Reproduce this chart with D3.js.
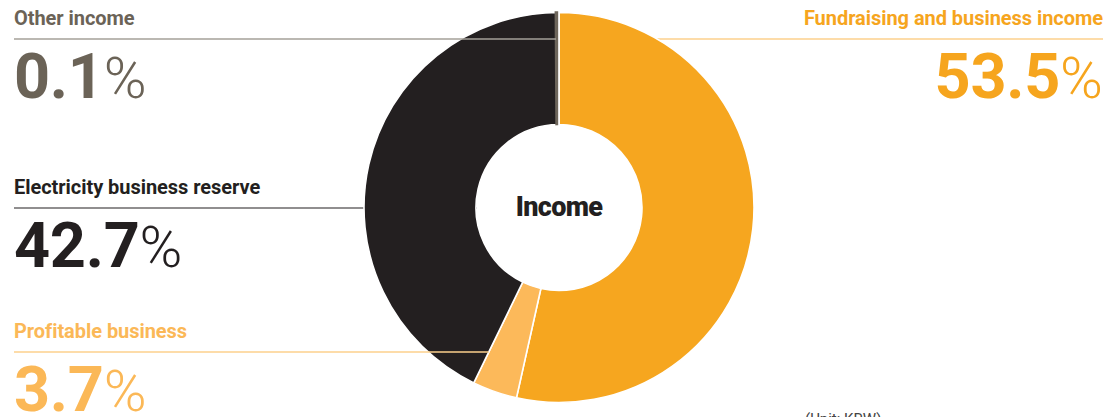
<!DOCTYPE html>
<html>
<head>
<meta charset="utf-8">
<script src="https://cdn.jsdelivr.net/npm/d3@7"></script>
<style>
  html, body { margin: 0; padding: 0; background: #fff; }
  svg { display: block; }
</style>
</head>
<body>
<svg id="chart" width="1111" height="417"></svg>
<script>
// Income composition (%)
const categories = [
  "Fundraising and business income",
  "Profitable business",
  "Electricity business reserve",
  "Other income"
];
const shares = [53.5, 3.7, 42.7, 0.1];
const centerTitle = "Income";
const unitNote = "(Unit: KRW)";

// Presentation
const fills = ["#f6a61f", "#fcb95a", "#231f20", "#6e665b"];
const textFills = ["#f6a51e", "#fbb857", "#231f20", "#6b6357"];
const leaderFills = ["#fdd08c", "#fdd08c", "#231f20", "#a5a098"];
const side = ["right", "left", "left", "left"];
const leaderY = [39, 352, 208, 39];

const W = 1111, H = 417;
const cx = 559, cy = 207.5, outerR = 195, innerR = 83;
const leftX = 14, rightX = 1103;

const svg = d3.select("#chart");

const pie = d3.pie().sort(null).value(d => d.v).startAngle(0).endAngle(2 * Math.PI);
const arcs = pie(categories.map((c, i) => ({ c, v: shares[i], i })));
const arc = d3.arc().innerRadius(innerR).outerRadius(outerR);

const leaders = svg.append("g");
const pieG = svg.append("g").attr("transform", `translate(${cx},${cy})`);
const over = svg.append("g");

// x where a horizontal leader at height y meets the slice's closing edge
function edgeX(a, y) {
  const ang = a.endAngle;
  const dy = y - cy;
  const ux = Math.sin(ang), uy = -Math.cos(ang);
  const t = dy / uy;
  return cx + ux * t;
}

arcs.forEach((a, i) => {
  const y = leaderY[i];
  if (side[i] === "right") {
    leaders.append("line")
      .attr("x1", cx).attr("x2", rightX).attr("y1", y).attr("y2", y)
      .attr("stroke", leaderFills[i]).attr("stroke-width", 1.5);
  } else if (i === 2) {
    leaders.append("line")
      .attr("x1", leftX).attr("x2", cx).attr("y1", y).attr("y2", y)
      .attr("stroke", leaderFills[i]).attr("stroke-width", 1.2);
  } else {
    over.append("line")
      .attr("x1", leftX).attr("x2", edgeX(a, y) - (i === 3 ? 3 : 0)).attr("y1", y).attr("y2", y)
      .attr("stroke", leaderFills[i]).attr("stroke-width", 1.5);
  }
});

// Slices with white separators
pieG.selectAll("path.slice")
  .data(arcs)
  .join("path")
  .attr("class", "slice")
  .attr("d", arc)
  .attr("fill", d => fills[d.data.i])
  .attr("stroke", "#fff")
  .attr("stroke-width", 1.6)
  .attr("stroke-linejoin", "miter");

// The smallest slice gets an outline in its own colour so it stays visible
const tiny = arcs[3];
pieG.append("path")
  .attr("d", arc(tiny))
  .attr("fill", fills[3])
  .attr("stroke", fills[3])
  .attr("stroke-width", 2.4)
  .attr("transform", "translate(-2,0)");

pieG.append("circle").attr("r", innerR - 0.8).attr("fill", "#fff");

pieG.append("text")
  .attr("text-anchor", "middle")
  .attr("y", 8)
  .attr("font-family", "Roboto, sans-serif")
  .attr("font-weight", 900)
  .attr("font-size", 27)
  .attr("letter-spacing", -0.7)
  .attr("fill", "#231f20")
  .text(centerTitle);

// Category labels and shares
arcs.forEach((a, i) => {
  const y = leaderY[i];
  const right = side[i] === "right";
  const x = right ? rightX : leftX;
  const anchor = right ? "end" : "start";

  over.append("text")
    .attr("x", x).attr("y", y - 14)
    .attr("text-anchor", anchor)
    .attr("font-family", "Roboto, sans-serif")
    .attr("font-weight", 700)
    .attr("font-size", 20)
    .attr("letter-spacing", -0.05)
    .attr("fill", textFills[i])
    .text(categories[i]);

  const t = over.append("text")
    .attr("x", x).attr("y", y + 59)
    .attr("text-anchor", anchor)
    .attr("font-family", "Roboto, sans-serif")
    .attr("fill", textFills[i]);
  t.append("tspan")
    .attr("font-weight", 700)
    .attr("font-size", 63)
    .attr("letter-spacing", -0.3)
    .text(d3.format(".1f")(shares[i]));
  t.append("tspan")
    .attr("font-weight", 300)
    .attr("font-size", 58)
    .attr("dx", 0)
    .text("%");
});

svg.append("text")
  .attr("x", 805).attr("y", 424)
  .attr("font-family", "Roboto, sans-serif")
  .attr("font-size", 15)
  .attr("fill", "#444")
  .text(unitNote);
</script>
</body>
</html>
